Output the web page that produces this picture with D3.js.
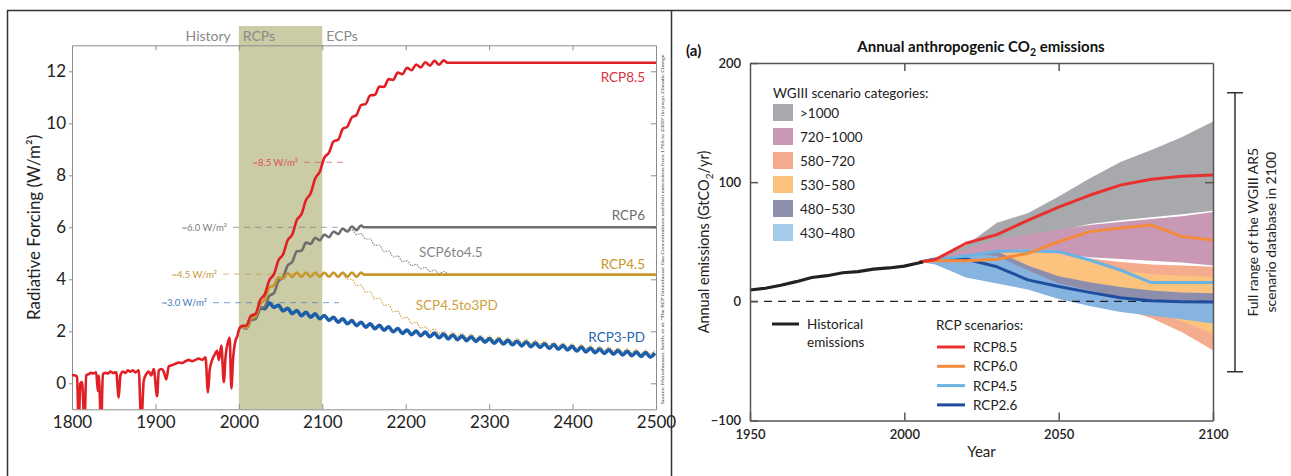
<!DOCTYPE html>
<html>
<head>
<meta charset="utf-8">
<script src="https://cdn.jsdelivr.net/npm/d3@7"></script>
<style>
  body { margin: 0; background: #fff; }
  svg text { font-family: Lato, "Open Sans", sans-serif; }
</style>
</head>
<body>
<svg id="chart" width="1291" height="476"></svg>
<script>
const FONT = "Lato, 'Open Sans', sans-serif";

// ---------- left panel data: radiative forcing (W/m2) ----------
const periodNames = ["History", "RCPs", "ECPs"];
const periodStarts = [1800, 2000, 2100];
const xTicksL = [1800, 1900, 2000, 2100, 2200, 2300, 2400, 2500];
const yTicksL = [0, 2, 4, 6, 8, 10, 12];

const historyForcing = [
  [1800, 0.32], [1804, 0.3], [1806, 0.25], [1808, -1.6], [1810, 0.0], [1812, 0.05], [1815, -1.6],
  [1817, 0.3], [1820, 0.35], [1823, 0.4], [1826, 0.38], [1829, 0.42], [1831, -0.3], [1832, 0.3],
  [1835, -1.6], [1837, 0.35], [1840, 0.4], [1843, 0.38], [1846, 0.45], [1849, 0.4], [1853, 0.42],
  [1856, -0.55], [1858, 0.3], [1861, 0.45], [1864, 0.4], [1867, 0.5], [1870, 0.45], [1873, 0.5],
  [1876, 0.42], [1880, 0.5], [1883, -1.6], [1886, 0.1], [1889, 0.35], [1892, 0.45], [1895, 0.3],
  [1898, 0.55], [1902, -0.5], [1904, 0.5], [1907, 0.55], [1910, 0.45], [1913, 0.15], [1916, 0.65],
  [1920, 0.7], [1924, 0.75], [1928, 0.8], [1932, 0.78], [1936, 0.85], [1940, 0.9], [1944, 0.85],
  [1948, 0.9], [1952, 0.95], [1956, 0.9], [1960, 1.0], [1963, -0.35], [1965, 0.5], [1968, 0.9],
  [1971, 1.1], [1974, 1.25], [1976, 0.9], [1979, 1.45], [1982, 0.05], [1984, 1.0], [1987, 1.6],
  [1989, 1.75], [1991, -0.2], [1993, 0.9], [1996, 1.65], [1998, 1.8], [2000, 2.05]
];

// scenario values at solar-cycle peaks and troughs, every 5.5 years from the start year
const waveStep = 5.5;
const branchPoint = [2003.5, 2.2];
const rcp85Start = 2003.5;
const rcp85Wave = [2.2, 2.22, 2.6, 2.67, 3.2, 3.42, 3.96, 4.19, 4.73, 4.96, 5.5, 5.72, 6.28, 6.5, 7.05,
  7.3, 7.88, 8.14, 8.68, 8.87, 9.3, 9.37, 9.78, 9.87, 10.23, 10.32, 10.7, 10.74, 11.08, 11.09, 11.41,
  11.4, 11.7, 11.67, 11.95, 11.89, 12.13, 12.04, 12.26, 12.15, 12.35, 12.22, 12.4, 12.25, 12.42];
const rcp85Tail = [[2250, 12.33], [2500, 12.33]];

const rcp6Start = 2009;
const rcp6Wave = [2.12, 2.43, 2.47, 2.86, 2.94, 3.36, 3.47, 3.93, 4.07, 4.53, 4.67, 5.08, 5.1, 5.41,
  5.36, 5.6, 5.5, 5.72, 5.62, 5.84, 5.74, 5.95, 5.84, 6.03, 5.89, 6.07];
const rcp6Tail = [[2150, 6.0], [2500, 6.0]];

const rcp45Start = 2009;
const rcp45Wave = [2.12, 2.48, 2.57, 3.03, 3.22, 3.68, 3.77, 4.08, 4.02, 4.23, 4.09, 4.26, 4.1, 4.26,
  4.1, 4.26, 4.1, 4.26, 4.1, 4.26, 4.1, 4.26, 4.1, 4.26, 4.1, 4.26];
const rcp45Tail = [[2150, 4.18], [2500, 4.18]];

const rcp3pdStart = 2009;
const rcp3pdWave = [2.12, 2.53, 2.57, 2.9, 2.87, 3.1, 2.92, 3.0, 2.79, 2.88, 2.68, 2.8, 2.6, 2.73, 2.54,
  2.67, 2.48, 2.61, 2.42, 2.54, 2.35, 2.48, 2.29, 2.41, 2.22, 2.35, 2.16, 2.29, 2.1, 2.23, 2.04, 2.17,
  1.98, 2.11, 1.92, 2.05, 1.87, 2.01, 1.83, 1.97, 1.79, 1.93, 1.75, 1.89, 1.71, 1.86, 1.68, 1.82, 1.64,
  1.79, 1.61, 1.75, 1.58, 1.72, 1.54, 1.69, 1.51, 1.65, 1.48, 1.62, 1.44, 1.59, 1.41, 1.55, 1.38, 1.52,
  1.34, 1.49, 1.31, 1.45, 1.28, 1.42, 1.24, 1.39, 1.21, 1.35, 1.18, 1.32, 1.15, 1.29, 1.12, 1.26, 1.09,
  1.23, 1.06, 1.2, 1.03, 1.18, 1.01, 1.16];

const scp6Start = 2124.5;
const scp6Wave = [5.95, 5.82, 5.9, 5.72, 5.76, 5.55, 5.55, 5.3, 5.32, 5.06, 5.1, 4.86, 4.9, 4.68, 4.72,
  4.52, 4.58, 4.4, 4.46, 4.3, 4.36, 4.22, 4.3, 4.18];

const scp45Start = 2124.5;
const scp45Wave = [4.25, 4.0, 4.0, 3.75, 3.78, 3.5, 3.52, 3.25, 3.28, 3.0, 3.02, 2.75, 2.78, 2.5, 2.55,
  2.3, 2.35, 2.12, 2.18, 2.0, 2.08, 1.92, 2.0, 1.83, 1.96, 1.8, 1.92, 1.76, 1.89, 1.73, 1.85, 1.7, 1.82,
  1.66, 1.79, 1.63, 1.75, 1.6, 1.72, 1.56, 1.69, 1.53, 1.65, 1.5, 1.62, 1.46, 1.59, 1.43, 1.55, 1.4,
  1.52, 1.36, 1.49, 1.33, 1.45, 1.3, 1.42, 1.27, 1.39, 1.24, 1.36, 1.21, 1.33, 1.18, 1.3, 1.15, 1.28,
  1.13, 1.26];

// 2100 forcing markers: level, label, [dash start year, dash end year]
const markLevels = [8.5, 6.0, 4.2, 3.1];
const markTexts = ["~8.5 W/m²", "~6.0 W/m²", "~4.5 W/m²", "~3.0 W/m²"];
const markSpans = [[2078, 2125], [1993, 2125], [1981, 2068], [1969, 2120]];

const sourceNote = "Source: Meinshausen, Smith, et al. \u201CThe RCP Greenhouse Gas Concentrations and their extensions from 1765 to 2300\u201D (in prep), Climatic Change";

// ---------- right panel data: annual CO2 emissions (GtCO2/yr) ----------
const histYears = [1950, 1955, 1960, 1965, 1970, 1975, 1980, 1985, 1990, 1995, 2000, 2006];
const histEmissions = [9.5, 11, 13.5, 16.5, 20, 21.5, 24, 25, 27, 28, 29.5, 33];

const rcpYears = [2005, 2010, 2020, 2030, 2040, 2050, 2060, 2070, 2080, 2090, 2100];
const rcp85E = [33, 35, 48.7, 56, 68, 79, 89, 97.5, 102.5, 105, 106];
const rcp60E = [33, 34, 34, 35.3, 40.3, 50, 58.5, 61.5, 64, 54.3, 51.5];
const rcp45E = [33, 35, 38, 42, 42.5, 41.7, 34.7, 26.3, 15.7, 15.7, 15.7];
const rcp26E = [33, 35.5, 35.5, 29, 18, 12.5, 7.5, 3, 0.5, -0.3, -0.5];

const categoryNames = [">1000", "720\u20131000", "580\u2013720", "530\u2013580", "480\u2013530", "430\u2013480"];
const bandHi = [
  [33, 36, 47, 66, 74, 88, 103, 117, 127, 138, 151],
  [33, 35, 44, 52, 56, 60, 64, 66.5, 69, 71.5, 75],
  [33, 34, 38, 42, 44, 40, 36, 33, 31, 30, 29],
  [33, 34, 37, 41, 41, 40, 34, 26, 23, 21.5, 20.7],
  [33, 34, 37, 42, 30, 21, 16, 12, 9, 7.5, 6.7],
  [33, 35, 40, 38, 26, 15, 9, 3, 1, 0.5, 0]
];
const bandLo = [
  [33, 34, 42, 50, 55, 59, 65, 68, 70.5, 73, 76],
  [33, 33, 38, 42, 44, 40, 37, 35.5, 34, 32.5, 30],
  [33, 32, 28, 22, 14, 6, 0, -6, -14, -26, -41],
  [33, 32, 30, 25, 18, 10, 3, -2, -8, -17, -27],
  [33, 32, 28, 20, 12, 5, 0, -3, -6, -9, -12],
  [33, 31, 20, 15, 10, 2, -4, -9, -12, -15, -18.6]
];
const rcpNames = ["RCP8.5", "RCP6.0", "RCP4.5", "RCP2.6"];
const databaseRange = [-59, 175];
const xTicksR = [1950, 2000, 2050, 2100];
const yTicksR = [-100, 0, 100, 200];

// ---------------------------------------------------------------
const svg = d3.select("#chart");
svg.append("rect").attr("width", 1291).attr("height", 476).attr("fill", "#fff");

// table frame
svg.append("path")
  .attr("d", "M7.5,476V10.5H1291M671.5,10.5V476")
  .attr("fill", "none").attr("stroke", "#333").attr("stroke-width", 1.5);

function styleAxis(g, color, w, size) {
  g.attr("font-family", FONT).attr("font-size", size);
  g.select(".domain").attr("stroke", color).attr("stroke-width", w);
  g.selectAll(".tick line").attr("stroke", color).attr("stroke-width", w);
}

// ================= LEFT PANEL =================
const xL = d3.scaleLinear().domain([1800, 2500]).range([72, 656]);
const yL = d3.scaleLinear().domain([-1, 13]).range([409.3, 45.3]);
const gL = svg.append("g");

gL.append("clipPath").attr("id", "clipL").append("rect")
  .attr("x", xL(1800)).attr("y", yL(13) - 10)
  .attr("width", xL(2500) - xL(1800)).attr("height", yL(-1) - yL(13) + 10);

// RCP period shading
gL.append("rect")
  .attr("x", xL(periodStarts[1])).attr("y", 26)
  .attr("width", xL(periodStarts[2]) - xL(periodStarts[1]))
  .attr("height", yL(-1) - 26)
  .attr("fill", "#cbcba6");

gL.selectAll(".period").data(periodNames).join("text")
  .attr("x", (d, i) => i === 0 ? xL(periodStarts[1]) - 8 : xL(periodStarts[i]) + 4)
  .attr("y", 41)
  .attr("text-anchor", (d, i) => i === 0 ? "end" : "start")
  .attr("font-size", 14).attr("fill", "#8a8a8a")
  .text(d => d);

// axes
gL.append("g").attr("transform", `translate(0,${yL(-1)})`)
  .call(d3.axisBottom(xL).tickValues(xTicksL).tickSizeInner(-5).tickSizeOuter(0).tickPadding(7).tickFormat(d3.format("d")))
  .call(g => styleAxis(g, "#8c8c8c", 1, 17))
  .call(g => g.selectAll("text").attr("fill", "#222"));
gL.append("g").attr("transform", `translate(0,${yL(13)})`)
  .call(d3.axisTop(xL).tickValues(xTicksL.slice(1, -1)).tickSizeInner(-5).tickSizeOuter(0).tickFormat(""))
  .call(g => styleAxis(g, "#8c8c8c", 1, 17));
gL.append("g").attr("transform", `translate(${xL(1800)},0)`)
  .call(d3.axisLeft(yL).tickValues(yTicksL).tickSizeInner(3).tickSizeOuter(0).tickPadding(3))
  .call(g => styleAxis(g, "#8c8c8c", 1, 17))
  .call(g => g.selectAll("text").attr("fill", "#222"));
gL.append("g").attr("transform", `translate(${xL(2500)},0)`)
  .call(d3.axisRight(yL).tickValues(yTicksL).tickSizeInner(-5).tickSizeOuter(0).tickFormat(""))
  .call(g => styleAxis(g, "#8c8c8c", 1, 17));

gL.append("text")
  .attr("transform", `translate(40,${(yL(-1) + yL(13)) / 2}) rotate(-90)`)
  .attr("text-anchor", "middle").attr("font-size", 17).attr("fill", "#222")
  .text("Radiative Forcing (W/m²)");

// 2100 level markers
const markColors = ["#e0525a", "#7d7d7d", "#c99a3a", "#3f7bb5"];
const marks = gL.selectAll(".mark").data(markLevels).join("g");
marks.append("line")
  .attr("x1", (d, i) => xL(markSpans[i][0])).attr("x2", (d, i) => xL(markSpans[i][1]))
  .attr("y1", d => yL(d)).attr("y2", d => yL(d))
  .attr("stroke", (d, i) => markColors[i]).attr("stroke-opacity", 0.7)
  .attr("stroke-width", 1).attr("stroke-dasharray", "6 5");
marks.append("text")
  .attr("x", (d, i) => xL(markSpans[i][0]) - 6).attr("y", d => yL(d) + 3.5)
  .attr("text-anchor", "end").attr("font-size", 9.5)
  .attr("fill", (d, i) => markColors[i])
  .text((d, i) => markTexts[i]);

// scenario lines
const wave = (start, vals) => vals.map((v, i) => [start + i * waveStep, v]);
const lineL = d3.line().x(d => xL(d[0])).y(d => yL(d[1])).curve(d3.curveMonotoneX);

const leftSeries = [
  { key: "SCP6to4.5", pts: wave(scp6Start, scp6Wave), color: "#8a8a8a", w: 1.1, dash: "1.6 1.1" },
  { key: "SCP4.5to3PD", pts: wave(scp45Start, scp45Wave), color: "#d2a445", w: 1.1, dash: "1.6 1.1" },
  { key: "RCP3-PD", pts: [branchPoint].concat(wave(rcp3pdStart, rcp3pdWave)), color: "#1c5ea8", w: 3.6 },
  { key: "RCP6", pts: [branchPoint].concat(wave(rcp6Start, rcp6Wave), rcp6Tail), color: "#6e6e6e", w: 2.6 },
  { key: "RCP4.5", pts: [branchPoint].concat(wave(rcp45Start, rcp45Wave), rcp45Tail), color: "#c8962c", w: 2.6 },
  { key: "RCP8.5", pts: historyForcing.concat(wave(rcp85Start, rcp85Wave), rcp85Tail), color: "#e11f26", w: 2.6 }
];

gL.append("g").attr("clip-path", "url(#clipL)")
  .selectAll("path").data(leftSeries).join("path")
  .attr("d", d => lineL(d.pts))
  .attr("fill", "none")
  .attr("stroke", d => d.color)
  .attr("stroke-width", d => d.w)
  .attr("stroke-dasharray", d => d.dash || null)
  .attr("stroke-linejoin", "round");

// series labels
const seriesLabels = [
  { text: "RCP8.5", x: 2450, y: 11.78, color: "#d9343b", anchor: "end" },
  { text: "RCP6", x: 2450, y: 6.48, color: "#6e6e6e", anchor: "end" },
  { text: "RCP4.5", x: 2450, y: 4.6, color: "#c8962c", anchor: "end" },
  { text: "RCP3-PD", x: 2450, y: 1.8, color: "#2666ad", anchor: "end" },
  { text: "SCP6to4.5", x: 2216, y: 5.06, color: "#858585", anchor: "start" },
  { text: "SCP4.5to3PD", x: 2212, y: 3.0, color: "#d0a03c", anchor: "start" }
];
gL.selectAll(".slabel").data(seriesLabels).join("text")
  .attr("x", d => d.anchor === "end" ? xL(2500) - 11 : xL(d.x))
  .attr("y", d => yL(d.y) + 5)
  .attr("text-anchor", d => d.anchor)
  .attr("font-size", 13.5)
  .attr("fill", d => d.color)
  .text(d => d.text);

gL.append("text")
  .attr("transform", `translate(${xL(2500) + 8},${(yL(-1) + yL(13)) / 2 + 2}) rotate(-90)`)
  .attr("text-anchor", "middle").attr("font-size", 4.6).attr("fill", "#333")
  .attr("textLength", 350).attr("lengthAdjust", "spacingAndGlyphs")
  .text(sourceNote);

// ================= RIGHT PANEL =================
const xR = d3.scaleLinear().domain([1950, 2100]).range([750, 1213]);
const yR = d3.scaleLinear().domain([-100, 200]).range([420.5, 63]);
const gR = svg.append("g");

const catColors = ["#a7a9ac", "#c898b4", "#f5ab8d", "#fbc37d", "#8d8eab", "#86b3e0"];
const area = d3.area().x(d => xR(d.year)).y0(d => yR(d.lo)).y1(d => yR(d.hi));
const bands = categoryNames.map((name, c) => ({
  name, color: catColors[c],
  pts: rcpYears.map((year, i) => ({ year, lo: bandLo[c][i], hi: bandHi[c][i] }))
}));
gR.selectAll(".band").data(bands).join("path")
  .attr("d", d => area(d.pts))
  .attr("fill", d => d.color);

// zero line
gR.append("line")
  .attr("x1", xR(1950)).attr("x2", xR(2100)).attr("y1", yR(0)).attr("y2", yR(0))
  .attr("stroke", "#222").attr("stroke-width", 1.2).attr("stroke-dasharray", "8 6");

const rcpColors = ["#e8312f", "#f48a3c", "#6cb2e2", "#1f4e9e"];
const rcpSeries = [rcp85E, rcp60E, rcp45E, rcp26E];
const lineR = d3.line().x(d => xR(d[0])).y(d => yR(d[1]));
gR.selectAll(".rcp").data(rcpSeries.slice().reverse()).join("path")
  .attr("d", d => lineR(rcpYears.map((y, i) => [y, d[i]])))
  .attr("fill", "none")
  .attr("stroke", (d, i) => rcpColors[3 - i])
  .attr("stroke-width", 3).attr("stroke-linejoin", "round");

gR.append("path")
  .attr("d", lineR(histYears.map((y, i) => [y, histEmissions[i]])))
  .attr("fill", "none").attr("stroke", "#222").attr("stroke-width", 3.2);

// axes
gR.append("g").attr("transform", `translate(0,${yR(-100)})`)
  .call(d3.axisBottom(xR).tickValues(xTicksR).tickSizeInner(-8).tickSizeOuter(0).tickPadding(9).tickFormat(d3.format("d")))
  .call(g => styleAxis(g, "#555", 1.5, 13))
  .call(g => g.selectAll("text").attr("fill", "#222").attr("font-weight", 600));
gR.append("g").attr("transform", `translate(0,${yR(200)})`)
  .call(d3.axisTop(xR).tickValues(xTicksR.slice(1, -1)).tickSizeInner(-8).tickSizeOuter(0).tickFormat(""))
  .call(g => styleAxis(g, "#555", 1.5, 13));
gR.append("g").attr("transform", `translate(${xR(1950)},0)`)
  .call(d3.axisLeft(yR).tickValues(yTicksR).tickSizeInner(-8).tickSizeOuter(0).tickPadding(9)
    .tickFormat(d => d < 0 ? "\u2212" + Math.abs(d) : d))
  .call(g => styleAxis(g, "#555", 1.5, 13))
  .call(g => g.selectAll("text").attr("fill", "#222").attr("font-weight", 600));
gR.append("g").attr("transform", `translate(${xR(2100)},0)`)
  .call(d3.axisRight(yR).tickValues([100]).tickSizeInner(-8).tickSizeOuter(0).tickFormat(""))
  .call(g => styleAxis(g, "#555", 1.5, 13));

gR.append("text")
  .attr("x", (xR(1950) + xR(2100)) / 2).attr("y", 457)
  .attr("text-anchor", "middle").attr("font-size", 15).attr("fill", "#222")
  .text("Year");
gR.append("text")
  .attr("transform", `translate(709,242) rotate(-90)`)
  .attr("text-anchor", "middle").attr("font-size", 14.5).attr("fill", "#222")
  .call(t => {
    t.append("tspan").text("Annual emissions (GtCO");
    t.append("tspan").attr("font-size", 10).attr("dy", 4).text("2");
    t.append("tspan").attr("dy", -4).text("/yr)");
  });

// title
gR.append("text").attr("x", 686).attr("y", 56)
  .attr("font-size", 15).attr("font-weight", 700).attr("fill", "#111").text("(a)");
gR.append("text").attr("x", 981).attr("y", 52)
  .attr("text-anchor", "middle").attr("font-size", 15).attr("font-weight", 700).attr("fill", "#111")
  .call(t => {
    t.append("tspan").text("Annual anthropogenic CO");
    t.append("tspan").attr("font-size", 10.5).attr("dy", 4).text("2");
    t.append("tspan").attr("dy", -4).text(" emissions");
  });

// category legend
const legC = gR.append("g").attr("transform", "translate(773,0)");
legC.append("text").attr("x", 0).attr("y", 98).attr("font-size", 13.5).attr("fill", "#222")
  .text("WGIII scenario categories:");
const legItems = legC.selectAll(".li").data(categoryNames).join("g")
  .attr("transform", (d, i) => `translate(0,${104 + i * 24})`);
legItems.append("rect").attr("width", 20).attr("height", 17)
  .attr("fill", (d, i) => i === 5 ? "#a3cbea" : catColors[i]);
legItems.append("text").attr("x", 27).attr("y", 14).attr("font-size", 13.5).attr("fill", "#222").text(d => d);

// historical legend
gR.append("line").attr("x1", 772).attr("x2", 799).attr("y1", 324).attr("y2", 324)
  .attr("stroke", "#222").attr("stroke-width", 3);
gR.append("text").attr("x", 807).attr("y", 329).attr("font-size", 13.5).attr("fill", "#222").text("Historical");
gR.append("text").attr("x", 807).attr("y", 347).attr("font-size", 13.5).attr("fill", "#222").text("emissions");

// rcp legend
gR.append("text").attr("x", 936).attr("y", 330).attr("font-size", 13.5).attr("fill", "#222").text("RCP scenarios:");
const legR = gR.selectAll(".lr").data(rcpNames).join("g")
  .attr("transform", (d, i) => `translate(937,${347 + i * 19.3})`);
legR.append("line").attr("x1", 0).attr("x2", 28).attr("stroke", (d, i) => rcpColors[i]).attr("stroke-width", 3);
legR.append("text").attr("x", 36).attr("y", 5).attr("font-size", 13.5).attr("fill", "#222").text(d => d);

// full range bracket
const bx = 1235;
gR.append("path")
  .attr("d", `M${bx - 8},${yR(databaseRange[1])}H${bx + 8}M${bx},${yR(databaseRange[1])}V${yR(databaseRange[0])}M${bx - 8},${yR(databaseRange[0])}H${bx + 8}`)
  .attr("fill", "none").attr("stroke", "#333").attr("stroke-width", 1.5);
const bracketText = gR.append("text")
  .attr("transform", `translate(1258,${(yR(databaseRange[0]) + yR(databaseRange[1])) / 2}) rotate(-90)`)
  .attr("text-anchor", "middle").attr("font-size", 14).attr("fill", "#222");
bracketText.append("tspan").attr("x", 0).attr("dy", 0).text("Full range of the WGIII AR5");
bracketText.append("tspan").attr("x", 0).attr("dy", 18).text("scenario database in 2100");
</script>
</body>
</html>
